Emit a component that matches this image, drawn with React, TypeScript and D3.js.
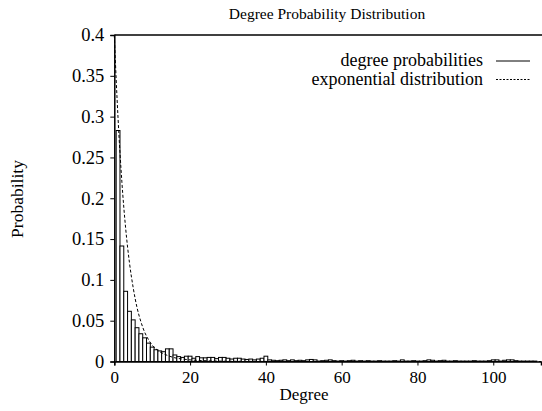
import { useEffect, useRef } from "react";
import * as d3 from "d3";

// degree probabilities, one value per degree starting at 1
const degreeProbabilities = [
  0.283, 0.1415, 0.086, 0.0615, 0.051, 0.0414, 0.034, 0.029, 0.0225, 0.0176,
  0.0144, 0.013, 0.012, 0.0155, 0.0155, 0.008, 0.006, 0.005, 0.0065, 0.0065,
  0.004, 0.006, 0.0045, 0.0045, 0.005, 0.005, 0.0035, 0.005, 0.005, 0.004,
  0.003, 0.004, 0.004, 0.003, 0.0025, 0.003, 0.002, 0.003, 0.004, 0.0065,
  0.002, 0.0015, 0.001, 0.0015, 0.002, 0.001, 0.002, 0.001, 0.0015, 0.001,
  0.002, 0.0025, 0.002, 0.0005, 0.001, 0.0015, 0.002, 0.001, 0.0005, 0.001,
  0.0005, 0.001, 0.0015, 0.0005, 0.001, 0.0005, 0.001, 0.0005, 0.0005, 0.001,
  0.0005, 0.0005, 0.0005, 0.001, 0.0005, 0.002, 0.0005, 0.0005, 0.001, 0.0005,
  0.0005, 0.001, 0.002, 0.0015, 0.0005, 0.001, 0.0015, 0.0005, 0.0005, 0.001,
  0.0005, 0.0005, 0.0005, 0.0005, 0.001, 0.0005, 0.0005, 0.0005, 0.001, 0.002,
  0.002, 0.0005, 0.0015, 0.002, 0.002, 0.001, 0.0005, 0.0005, 0.0005, 0.0005,
  0.0005,
];

// exponential fit
const expDegrees = [0, 0.5, 1, 2, 3, 4, 5, 6, 7, 8, 9, 10, 12, 14, 16, 18, 20, 25, 30, 40, 60, 112.6];
const expValues = [0.4, 0.345, 0.297, 0.22, 0.163, 0.121, 0.09, 0.066, 0.049, 0.036, 0.027, 0.02, 0.012, 0.0075, 0.0045, 0.003, 0.002, 0.0008, 0.0003, 0.0001, 0, 0];

const xTicks = [0, 20, 40, 60, 80, 100];
const yTicks = [0, 0.05, 0.1, 0.15, 0.2, 0.25, 0.3, 0.35, 0.4];

const legendLabels = ["degree probabilities", "exponential distribution"];

const W = 542;
const H = 411;
const FONT = '"Liberation Serif", Tinos, "Times New Roman", "DejaVu Serif", serif';

function App() {
  const ref = useRef(null);

  useEffect(() => {
    const svg = d3.select(ref.current);
    svg.selectAll("*").remove();

    const x = d3.scaleLinear().domain([0, 112.6]).range([114.3, 541]);
    const y = d3.scaleLinear().domain([0, 0.4]).range([361.5, 35]);

    svg.append("rect").attr("width", W).attr("height", H).attr("fill", "#fff");

    const plot = svg.append("g");

    // bars
    plot
      .selectAll(".bar")
      .data(degreeProbabilities)
      .enter()
      .append("rect")
      .attr("class", "bar")
      .attr("x", (d, i) => x(i + 0.5))
      .attr("width", x(1) - x(0))
      .attr("y", (d) => y(d))
      .attr("height", (d) => y(0) - y(d))
      .attr("fill", "#fff")
      .attr("stroke", "#000")
      .attr("stroke-width", 1);

    // exponential curve
    const line = d3
      .line()
      .x((d) => x(d[0]))
      .y((d) => y(d[1]))
      .curve(d3.curveMonotoneX);
    plot
      .append("path")
      .datum(expDegrees.map((d, i) => [d, expValues[i]]))
      .attr("d", line)
      .attr("fill", "none")
      .attr("stroke", "#000")
      .attr("stroke-width", 1)
      .attr("stroke-dasharray", "3,2");

    // axes
    const xAxis = d3.axisBottom(x).tickValues(xTicks).tickSize(4).tickFormat(d3.format("d"));
    const yAxis = d3.axisLeft(y).tickValues(yTicks).tickSize(4).tickFormat((d) => String(d));

    const gx = svg.append("g").attr("transform", `translate(0,${y(0)})`).call(xAxis);
    const gy = svg.append("g").attr("transform", `translate(${x(0)},0)`).call(yAxis);

    [gx, gy].forEach((g) => {
      g.attr("font-family", null).attr("font-size", null);
      g.select(".domain").attr("stroke", "#000").attr("stroke-width", 1.5);
      g.selectAll(".tick line").attr("stroke", "#000").attr("stroke-width", 1);
      g.selectAll("text").style("font-family", FONT).attr("fill", "#000");
    });
    gx.selectAll("text").style("font-size", "17px").attr("dy", "0.9em").attr("y", 6);
    gy.selectAll("text").style("font-size", "18.5px").attr("x", -10);

    // top border
    svg
      .append("line")
      .attr("x1", x(0))
      .attr("x2", W)
      .attr("y1", y(0.4))
      .attr("y2", y(0.4))
      .attr("stroke", "#000")
      .attr("stroke-width", 1.5);

    const addText = (tx, ty, s, size, anchor = "middle") =>
      svg
        .append("text")
        .attr("x", tx)
        .attr("y", ty)
        .attr("text-anchor", anchor)
        .style("font-family", FONT)
        .style("font-size", size + "px")
        .text(s);

    // title and axis labels
    addText(327, 19, "Degree Probability Distribution", 15.5);
    addText(304, 400, "Degree", 17);
    addText(0, 0, "Probability", 17.5).attr("transform", "translate(23,199) rotate(-90)");

    // legend
    legendLabels.forEach((label, i) => {
      const ly = 61 + i * 18.5;
      addText(483, ly + 5, label, 18, "end");
      svg
        .append("line")
        .attr("x1", 496)
        .attr("x2", 530)
        .attr("y1", ly)
        .attr("y2", ly)
        .attr("stroke", "#000")
        .attr("stroke-width", 1)
        .attr("stroke-dasharray", i === 0 ? null : "2,1.5");
    });
  }, []);

  return (
    <svg
      ref={ref}
      width={W}
      height={H}
      style={{ position: "absolute", left: 0, top: 0, display: "block" }}
    />
  );
}

export default App;
